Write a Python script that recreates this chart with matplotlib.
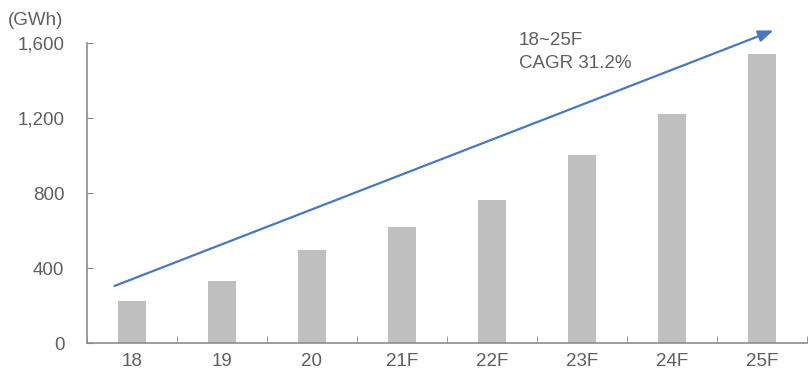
import matplotlib.pyplot as plt
import numpy as np

plt.rcParams['font.family'] = ['Liberation Sans', 'DejaVu Sans']

# annual output, GWh
years = ['18', '19', '20', '21F', '22F', '23F', '24F', '25F']
output_gwh = [227, 332, 499, 622, 763, 1003, 1223, 1541]
y_ticks = [0, 400, 800, 1200, 1600]

text_color = '#5f5f5f'
axis_color = '#8c8c8c'
fs = 13.5

fig = plt.figure(figsize=(8.1, 3.79), dpi=100)
ax = fig.add_axes([0.107, 0.094, 0.889, 0.7925])

x = np.arange(len(years))
ax.bar(x, output_gwh, width=0.31, color='#bfbfbf', zorder=2)

ax.set_xlim(-0.5, len(years) - 0.5)
ax.set_ylim(0, 1600)

for side in ['top', 'right']:
    ax.spines[side].set_visible(False)
for side in ['left', 'bottom']:
    ax.spines[side].set_color(axis_color)
    ax.spines[side].set_linewidth(1.2)

ax.set_yticks(y_ticks)
ax.set_yticklabels([f'{v:,}' for v in y_ticks])
ax.tick_params(axis='y', direction='in', length=4, color=axis_color,
               labelsize=fs, labelcolor=text_color, pad=16)

# category labels centred, tick marks on the boundaries
ax.set_xticks(x)
ax.set_xticklabels(years)
ax.set_xticks(np.arange(len(years) + 1) - 0.5, minor=True)
ax.tick_params(axis='x', which='major', length=0, labelsize=fs,
               labelcolor=text_color, pad=7)
ax.tick_params(axis='x', which='minor', direction='in', length=5,
               color=axis_color)

# growth arrow
ax.annotate('', xy=(7.13, 1667), xytext=(-0.19, 306),
            arrowprops=dict(arrowstyle='-|>,head_length=0.9,head_width=0.35',
                            color='#4a78c0', lw=1.6, shrinkA=0, shrinkB=0),
            annotation_clip=False, zorder=3)

ax.text(4.30, 1552, '18~25F\nCAGR 31.2%', fontsize=fs, color=text_color,
        ha='left', va='center', linespacing=1.45)

fig.text(0.010, 0.947, '(GWh)', fontsize=fs, color=text_color,
         ha='left', va='center')

fig.savefig('out.png', dpi=100)
